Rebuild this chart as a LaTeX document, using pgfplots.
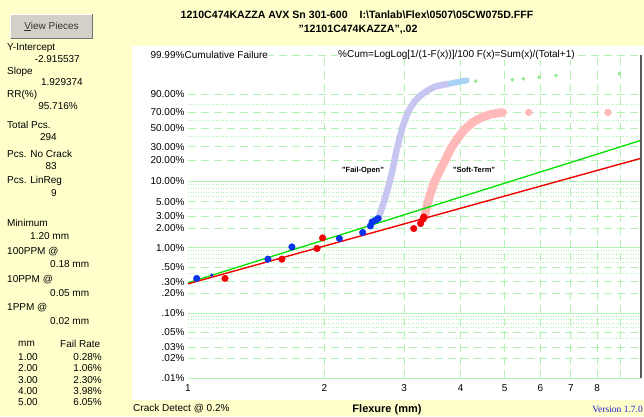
\documentclass[border=0pt]{standalone}
\usepackage{pgfplots}
\pgfplotsset{compat=1.18}
\usepackage{fontspec}
\setmainfont{Liberation Sans}
\newfontfamily\seriffont{Liberation Serif}
\newcommand\fs[1]{\fontsize{#1}{#1}\selectfont}
\definecolor{bgyellow}{RGB}{255,255,204}
\definecolor{gridgreen}{RGB}{180,242,180}
\definecolor{lavender}{RGB}{198,198,240}
\definecolor{lightblue}{RGB}{170,210,245}
\definecolor{pinkpt}{RGB}{255,185,185}
\definecolor{ptblue}{RGB}{10,50,235}
\definecolor{ptred}{RGB}{240,0,0}
\definecolor{linegreen}{RGB}{0,225,0}
\definecolor{dotgreen}{RGB}{150,232,150}
\definecolor{btn}{RGB}{212,208,200}
\definecolor{verblue}{RGB}{30,30,200}
\begin{document}
\begin{tikzpicture}[x=1pt,y=1pt]
\fill[bgyellow] (0,0) rectangle (644,416);
\begin{scope}[yshift=416pt, y=-1pt]
  \fill[white] (132,46) rectangle (650,400);
  % button
  \fill[btn] (10,14) rectangle (93,39);
  \draw[white, line width=1pt] (10.5,38.5) -- (10.5,14.5) -- (92.5,14.5);
  \draw[black!55, line width=1pt] (10.5,38.5) -- (92.5,38.5) -- (92.5,14.5);
\end{scope}

\begin{axis}[
  at={(188pt,38pt)}, anchor=south west, scale only axis,
  width=453pt, height=323pt,
  xmode=log, xmin=1, xmax=10, ymin=-9.2103, ymax=2.2203,
  axis line style={draw=none}, tick style={draw=none},
  major tick length=0pt, minor tick length=0pt,
  xtick={2,3,4,5,6,7,8,9}, xticklabels={2,3,4,5,6,7,8,{}},
  extra x ticks={1}, extra x tick labels={1}, extra x tick style={xmajorgrids=false},
  xmajorgrids, ymajorgrids, yminorgrids,
  ytick={-9.2103,-8.5171,-8.1117,-7.6006,-6.9073,-6.2136,-5.8076,-5.2958,-4.6002,-3.9019,-3.4914,-2.9702,-2.2504,-1.4999,-1.0309,-0.3665,0.1856,0.8340,2.2203},
  yticklabels={.01\%,.02\%,.03\%,.05\%,.10\%,.20\%,.30\%,.50\%,1.00\%,2.00\%,3.00\%,5.00\%,10.00\%,20.00\%,30.00\%,50.00\%,70.00\%,90.00\%,99.99\%},
  minor ytick={-7.8238,-7.4183,-7.2640,-7.1305,-7.0126,-5.5195,-5.1130,-4.9583,-4.8243,-4.7060,-3.1986,-2.7826,-2.6232,-2.4843,-2.3611,-0.6717,-0.0874,0.4759},
  extra y ticks={-9.2103,-6.9073,-4.6002,-2.2504},
  extra y tick labels={},
  extra y tick style={major grid style={gridgreen, solid, line width=0.8pt}},
  major grid style={gridgreen, line width=0.8pt, dash pattern=on 8pt off 5pt},
  minor grid style={gridgreen, line width=0.7pt, dash pattern=on 1pt off 1.5pt},
  xticklabel style={font=\fs{10}, yshift=-3pt},
  yticklabel style={font=\fs{10}},
  clip=false,
]
% Fail-Open band
\addplot[lavender, line width=6.5pt, line cap=round, line join=round] coordinates {
(2.633,-3.557) (2.659,-3.345) (2.701,-3.027) (2.743,-2.673) (2.785,-2.285) (2.828,-1.861)
(2.857,-1.507) (2.886,-1.154) (2.931,-0.730) (2.975,-0.341) (3.021,-0.023) (3.083,0.295)
(3.162,0.578) (3.261,0.790) (3.379,0.966) (3.520,1.108) (3.685,1.178) (3.761,1.196)};
\addplot[lightblue, line width=6pt, line cap=round, line join=round] coordinates {
(3.799,1.214) (3.897,1.249) (3.998,1.284) (4.121,1.320)};
% Soft-Term band
\addplot[pinkpt, line width=8.5pt, line cap=round, line join=round] coordinates {
(3.328,-3.521) (3.345,-3.345) (3.379,-3.027) (3.431,-2.673) (3.483,-2.355) (3.555,-2.037)
(3.628,-1.755) (3.722,-1.401) (3.818,-1.048) (3.937,-0.730) (4.080,-0.412) (4.250,-0.164)
(4.448,0.012) (4.657,0.118) (4.851,0.171) (4.951,0.189)};
\addplot[only marks, mark=*, mark size=3.4pt, pinkpt, mark options={draw=none}] coordinates {
(5.652,0.189) (8.453,0.189)};
% top green dots
\addplot[only marks, mark=*, mark size=1.7pt, dotgreen, mark options={draw=none}] coordinates {
(4.315,1.295) (5.203,1.344) (5.502,1.380) (5.957,1.436) (6.486,1.496) (8.954,1.556)};
% fit lines
\addplot[linegreen, line width=1.3pt] coordinates {(1,-5.84) (10,-0.80)};
\addplot[ptred, line width=1.4pt] coordinates {(1,-5.8767) (10,-1.4350)};
% points
\addplot[only marks, mark=*, mark size=3.3pt, ptblue, mark options={draw=none}] coordinates {
(1.045,-5.687) (1.501,-5.005) (1.696,-4.571) (2.159,-4.274) (2.430,-4.062)
(2.527,-3.829) (2.549,-3.687) (2.593,-3.627) (2.629,-3.567)};
\addplot[only marks, mark=*, mark size=1.5pt, ptblue, mark options={draw=none}] coordinates {
(1.128,-5.571)};
\addplot[only marks, mark=*, mark size=3.3pt, ptred, mark options={draw=none}] coordinates {
(1.207,-5.687) (1.612,-5.005) (1.927,-4.627) (1.982,-4.253) (3.151,-3.921)
(3.262,-3.744) (3.300,-3.592) (3.317,-3.511)};
\draw[black!65, line width=1.4pt] (rel axis cs:1,0) -- (rel axis cs:1,1);
\end{axis}

\begin{scope}[yshift=416pt, y=-1pt]
  \node[font=\fs{10}, text=black!80] at (51.5,26.5) {\underline{V}iew Pieces};
  % title
  \node[font=\bfseries\fs{10.6}] at (357,15) {1210C474KAZZA AVX Sn 301-600\hspace{12pt}I:\textbackslash Tanlab\textbackslash Flex\textbackslash 0507\textbackslash 05CW075D.FFF};
  \node[font=\bfseries\fs{10.6}] at (358,30) {"12101C474KAZZA",.02};
  % header in plot
  \node[font=\fs{10}, fill=white, inner sep=0pt, inner xsep=0.5pt, anchor=west] at (184,55) {Cumulative Failure};
  \node[font=\fs{10}, fill=white, inner sep=0pt, inner xsep=1pt, anchor=west] at (337,55) {\%Cum=LogLog[1/(1-F(x))]/100 F(x)=Sum(x)/(Total+1)};
  % in-plot labels
  \node[font=\bfseries\fs{7.5}] at (363,171) {"Fail-Open"};
  \node[font=\bfseries\fs{7.5}] at (474,170) {"Soft-Term"};
  % left panel
  \begin{scope}[every node/.style={font=\fs{10}, inner sep=0pt}]
  \node[anchor=west] at (7,48) {Y-Intercept};
  \node[anchor=east] at (80,59) {-2.915537};
  \node[anchor=west] at (7,72) {Slope};
  \node[anchor=east] at (83,82) {1.929374};
  \node[anchor=west] at (7,95) {RR(\%)};
  \node[anchor=east] at (78,106) {95.716\%};
  \node[anchor=west] at (7,125) {Total Pcs.};
  \node[anchor=east] at (57,137) {294};
  \node[anchor=west] at (7,154) {Pcs. No Crack};
  \node[anchor=east] at (57,166) {83};
  \node[anchor=west] at (7,181) {Pcs. LinReg};
  \node[anchor=east] at (57,193) {9};
  \node[anchor=west] at (7,223) {Minimum};
  \node[anchor=west] at (30,236) {1.20 mm};
  \node[anchor=west] at (7,252) {100PPM @};
  \node[anchor=west] at (50,264) {0.18 mm};
  \node[anchor=west] at (7,280) {10PPM @};
  \node[anchor=west] at (50,293) {0.05 mm};
  \node[anchor=west] at (7,308) {1PPM @};
  \node[anchor=west] at (50,321) {0.02 mm};
  \node[anchor=west] at (18,344) {mm};
  \node[anchor=west] at (60,344) {Fail Rate};
  \node[anchor=west] at (18,357) {1.00};
  \node[anchor=east] at (102,357) {0.28\%};
  \node[anchor=west] at (18,368) {2.00};
  \node[anchor=east] at (102,368) {1.06\%};
  \node[anchor=west] at (18,380) {3.00};
  \node[anchor=east] at (102,380) {2.30\%};
  \node[anchor=west] at (18,391) {4.00};
  \node[anchor=east] at (102,391) {3.98\%};
  \node[anchor=west] at (18,402) {5.00};
  \node[anchor=east] at (102,402) {6.05\%};
  \node[anchor=west] at (133,409) {Crack Detect @ 0.2\%};
  \node[anchor=east, font=\seriffont\fs{9.5}, text=verblue] at (643,409) {Version 1.7.0};
  \end{scope}
  \node[font=\bfseries\fs{11}] at (387,410) {Flexure (mm)};
\end{scope}
\pgfresetboundingbox
\path[use as bounding box] (0,0) rectangle (644,416);
\end{tikzpicture}
\end{document}
